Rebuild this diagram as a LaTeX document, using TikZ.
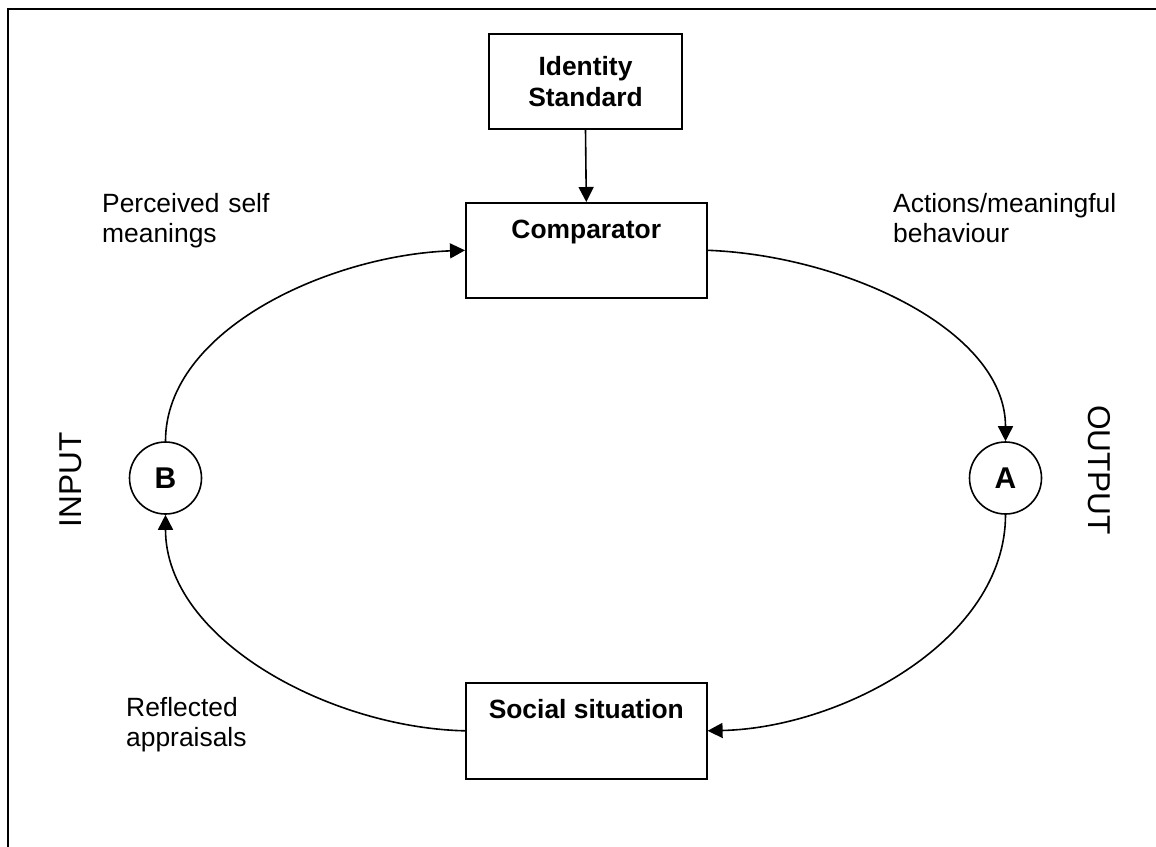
\documentclass[tikz,border=0pt]{standalone}
\usepackage{fontspec}
\setmainfont{Liberation Sans}
\usetikzlibrary{arrows.meta}
\begin{document}
\begin{tikzpicture}[x=1pt,y=-1pt,
  box/.style={draw, line width=1.6pt, inner sep=0pt, font=\fontsize{26.4}{30.4}\selectfont\bfseries},
  circ/.style={draw, circle, line width=1.6pt, minimum size=72pt, inner sep=0pt, font=\fontsize{30}{34}\selectfont\bfseries},
  lbl/.style={inner sep=0pt, anchor=base west, align=left, text width=260pt, font=\fontsize{26.4}{30.6}\selectfont},
  side/.style={inner sep=0pt, font=\fontsize{31.6}{36}\selectfont},
  conn/.style={line width=1.6pt, -{Triangle[length=15pt,width=15pt]}}
]
\useasboundingbox (0,0) rectangle (1156,846);
\draw[line width=2.2pt] (8,850) -- (8,9) -- (1160,9);

\node[box, minimum width=193pt, minimum height=95pt, align=center] (id) at (585.5,81.5) {Identity\\Standard};
\node[box, minimum width=241pt, text height=36pt, text depth=59pt, anchor=north west] (cmp) at (465,202) {Comparator};
\node[box, minimum width=241pt, text height=36pt, text depth=60pt, anchor=north west] (soc) at (465,682) {Social situation};

\node[circ] (B) at (165.5,478) {B};
\node[circ] (A) at (1005.5,478) {A};

\node[side, rotate=90] (in) at (71,480) {INPUT};
\node[side, rotate=-90] (out) at (1099,470) {OUTPUT};

\node[lbl] (psm) at (102,212) {Perceived self\\meanings};
\node[lbl] (amb) at (893,212) {Actions/meaningful\\behaviour};
\node[lbl] (ra) at (126,716) {Reflected\\appraisals};

\draw[conn] (id.south) -- (cmp.north);
\draw[conn] (B.north) .. controls +(0,-112) and +(-135,5) .. (cmp.west);
\draw[conn] (cmp.east) .. controls +(135,5) and +(0,-112) .. (A.north);
\draw[conn] (A.south) .. controls +(0,125) and +(135,-3) .. (soc.east);
\draw[conn] (soc.west) .. controls +(-135,-3) and +(0,125) .. (B.south);
\end{tikzpicture}
\end{document}
